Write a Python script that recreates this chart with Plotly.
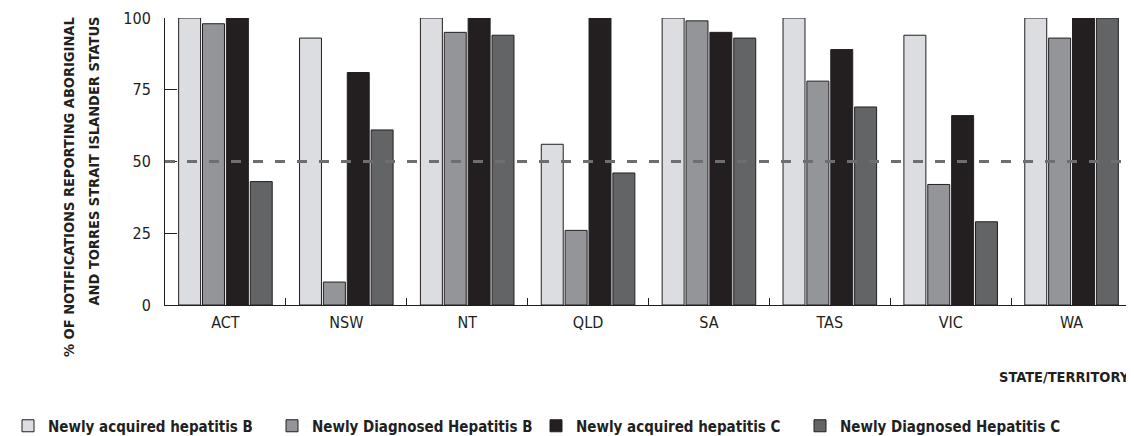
import plotly.graph_objects as go

states = ["ACT", "NSW", "NT", "QLD", "SA", "TAS", "VIC", "WA"]
series_names = [
    "Newly acquired hepatitis B",
    "Newly Diagnosed Hepatitis B",
    "Newly acquired hepatitis C",
    "Newly Diagnosed Hepatitis C",
]
acq_hep_b = [100, 93, 100, 56, 100, 100, 94, 100]
diag_hep_b = [98, 8, 95, 26, 99, 78, 42, 93]
acq_hep_c = [100, 81, 100, 100, 95, 89, 66, 100]
diag_hep_c = [43, 61, 94, 46, 93, 69, 29, 100]
threshold = 50
y_ticks = [0, 25, 50, 75, 100]

colors = ["#dcdde0", "#939598", "#231f20", "#636466"]
FONT = "DejaVu Sans Condensed, Liberation Sans, sans-serif"
TXT = "#231f20"

# page body has an 8px margin, so the figure is drawn 8px smaller and offset
OFF = 8
W, H = 1134 - OFF, 436 - OFF
L, T = 165 - OFF, 18 - OFF
R = W - (1132 - OFF)
B = H - (305 - OFF)
ph = H - T - B
pw = W - L - R

def py(ys):
    return (H - B - (ys - OFF)) / ph

def px(xs):
    return ((xs - OFF) - L) / pw

def f(size, bold=False):
    d = dict(family=FONT, size=size, color=TXT)
    if bold:
        d["weight"] = "bold"
    return d

fig = go.Figure()
for name, vals, col in zip(series_names, [acq_hep_b, diag_hep_b, acq_hep_c, diag_hep_c], colors):
    fig.add_trace(go.Bar(
        name=name, x=states, y=vals,
        marker=dict(color=col, line=dict(color="#231f20", width=1)),
    ))

fig.add_hline(y=threshold, line=dict(color="#6d6e71", width=3, dash="10px,12px"), layer="above")

fig.update_layout(
    width=W, height=H,
    margin=dict(l=L, r=R, t=T, b=B, pad=0, autoexpand=False),
    paper_bgcolor="white", plot_bgcolor="white",
    barmode="group", bargap=0.21, bargroupgap=0.08,
    font=f(16),
    showlegend=True,
    legend=dict(
        orientation="h",
        x=px(OFF), xanchor="left", y=py(426), yanchor="middle",
        font=f(15, True),
        entrywidth=219, entrywidthmode="pixels", itemclick=False,
        bgcolor="rgba(0,0,0,0)", traceorder="normal",
    ),
    xaxis=dict(
        showline=True, linecolor="#231f20", linewidth=1,
        ticks="inside", ticklen=7, tickcolor="#231f20", tickwidth=1,
        tickson="boundaries", showgrid=False, zeroline=False,
        tickfont=f(16), automargin=False,
        ticklabelstandoff=3,
        range=[-0.5, len(states) - 0.5],
    ),
    yaxis=dict(
        range=[0, 100], tickvals=y_ticks,
        showline=True, linecolor="#231f20", linewidth=1,
        ticks="inside", ticklen=12, tickcolor="#231f20", tickwidth=1,
        showgrid=False, zeroline=False, automargin=False,
        tickfont=f(16),
        ticklabelstandoff=10,
    ),
    annotations=[
        dict(text="% OF NOTIFICATIONS REPORTING ABORIGINAL", textangle=-90,
             xref="paper", yref="paper", x=px(69), y=py(15), xanchor="center", yanchor="top",
             showarrow=False, font=f(14.5, True)),
        dict(text="AND TORRES STRAIT ISLANDER STATUS", textangle=-90,
             xref="paper", yref="paper", x=px(93), y=py(15), xanchor="center", yanchor="top",
             showarrow=False, font=f(14.5, True)),
        dict(text="STATE/TERRITORY", xref="paper", yref="paper", x=1, y=py(377),
             xanchor="right", yanchor="middle", showarrow=False,
             font=f(14.5, True)),
    ],
)

fig.write_html("out.html")
